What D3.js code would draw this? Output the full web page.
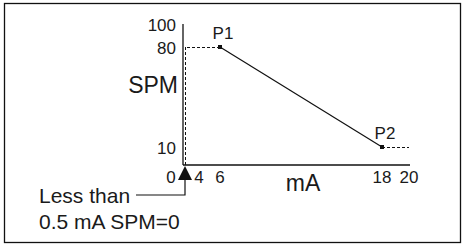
<!DOCTYPE html>
<html>
<head>
<meta charset="utf-8">
<script src="https://cdn.jsdelivr.net/npm/d3@7"></script>
<style>
  body { margin: 0; background: #fff; }
  text { font-family: "Liberation Sans", Arial, sans-serif; fill: #1a1a1a; }
</style>
</head>
<body>
<svg id="chart" width="468" height="250"></svg>
<script>
// schematic axis breakpoints (not to scale, as in the original drawing)
const xTicks = [0, 4, 6, 18, 20];
const yTicks = [10, 80, 100];

// curve points
const points = [
  { name: "P1", mA: 6, spm: 80 },
  { name: "P2", mA: 18, spm: 10 }
];
const dashedLeft = [[0.5, 0], [0.5, 80], [6, 80]];
const dashedRight = [[18, 10], [20, 10]];
const cutoff = 0.5;

const svg = d3.select("#chart");

// piecewise scales to follow the uneven spacing of the drawing
const x = d3.scaleLinear().domain([0, 4, 6, 20]).range([183, 199, 220, 409]);
const y = d3.scaleLinear().domain([0, 10, 80, 100]).range([165, 147, 47, 24]);

// frame
svg.append("rect")
  .attr("x", 4.5).attr("y", 3.5)
  .attr("width", 456).attr("height", 239)
  .attr("fill", "none").attr("stroke", "#111").attr("stroke-width", 1.3);

// axes lines
svg.append("line")
  .attr("x1", x(0)).attr("x2", x(0))
  .attr("y1", y(0)).attr("y2", y(100))
  .attr("stroke", "#111").attr("stroke-width", 1.3);
svg.append("line")
  .attr("x1", x(0)).attr("x2", x(20) + 1)
  .attr("y1", y(0)).attr("y2", y(0))
  .attr("stroke", "#111").attr("stroke-width", 1.3);

// x tick labels
svg.selectAll(".xt")
  .data(xTicks)
  .enter()
  .append("text")
  .attr("class", "xt")
  .attr("x", function (d) { return d == 0 ? x(0) - 12 : x(d); })
  .attr("y", 183)
  .attr("text-anchor", "middle")
  .attr("font-size", 17)
  .text(function (d) { return d; });

// y tick labels
svg.selectAll(".yt")
  .data(yTicks)
  .enter()
  .append("text")
  .attr("class", "yt")
  .attr("x", 176)
  .attr("y", function (d) { return y(d) + 7; })
  .attr("text-anchor", "end")
  .attr("font-size", 17)
  .text(function (d) { return d; });

// axis titles
svg.append("text")
  .attr("x", 178).attr("y", 93)
  .attr("text-anchor", "end")
  .attr("font-size", 23)
  .text("SPM");
svg.append("text")
  .attr("x", 303).attr("y", 191)
  .attr("text-anchor", "middle")
  .attr("font-size", 23)
  .text("mA");

const line = d3.line()
  .x(function (d) { return x(d[0]); })
  .y(function (d) { return y(d[1]); });

// dashed guides
[dashedLeft, dashedRight].forEach(function (seg) {
  svg.append("path")
    .datum(seg)
    .attr("fill", "none")
    .attr("stroke", "#111")
    .attr("stroke-width", 1)
    .attr("stroke-dasharray", "3,2")
    .attr("shape-rendering", "crispEdges")
    .attr("d", line);
});

// solid segment P1 -> P2
svg.append("path")
  .datum(points.map(function (p) { return [p.mA, p.spm]; }))
  .attr("fill", "none")
  .attr("stroke", "#111")
  .attr("stroke-width", 1.2)
  .attr("d", line);

// point markers and labels
svg.selectAll(".pt")
  .data(points)
  .enter()
  .append("rect")
  .attr("class", "pt")
  .attr("x", function (d) { return x(d.mA) - 2; })
  .attr("y", function (d) { return y(d.spm) - 2; })
  .attr("width", 4).attr("height", 4)
  .attr("fill", "#111");

svg.selectAll(".pl")
  .data(points)
  .enter()
  .append("text")
  .attr("class", "pl")
  .attr("x", function (d) { return x(d.mA) + 3; })
  .attr("y", function (d) { return y(d.spm) - 8; })
  .attr("text-anchor", "middle")
  .attr("font-size", 17)
  .text(function (d) { return d.name; });

// cutoff marker: triangle with leader line
const cx = x(cutoff);
svg.append("path")
  .attr("d", "M" + cx + "," + (y(0) + 1) + "L" + (cx + 7) + "," + (y(0) + 15) +
    "L" + (cx - 7) + "," + (y(0) + 15) + "Z")
  .attr("fill", "#111");
svg.append("path")
  .attr("d", "M" + cx + "," + (y(0) + 15) + "V195H136")
  .attr("fill", "none")
  .attr("stroke", "#111")
  .attr("stroke-width", 1.2);

svg.append("text")
  .attr("x", 39).attr("y", 203)
  .attr("font-size", 21)
  .text("Less than");
svg.append("text")
  .attr("x", 39).attr("y", 229)
  .attr("font-size", 21)
  .text("0.5 mA SPM=0");
</script>
</body>
</html>
